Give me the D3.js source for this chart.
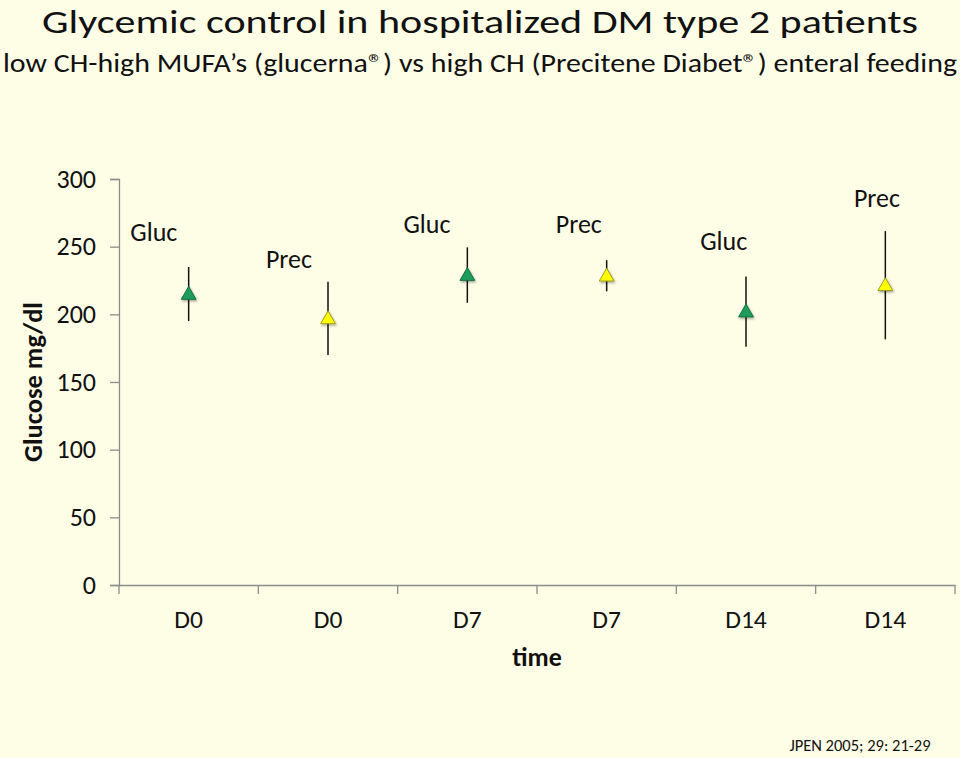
<!DOCTYPE html>
<html><head><meta charset="utf-8">
<script src="https://cdn.jsdelivr.net/npm/d3@7"></script>
<style>
html,body{margin:0;padding:0;background:#FEFEE6;}
svg{display:block;font-family:Carlito,Calibri,Lato,sans-serif;}
</style></head>
<body><svg id="chart" width="960" height="758"></svg>
<script>
const categories = ["D0","D0","D7","D7","D14","D14"];
const groups = ["Gluc","Prec","Gluc","Prec","Gluc","Prec"];
const means = [215,197,229,228.5,202,221.5];
const errors = [20,27,20.5,11.5,26,40];
const labelValues = [261,241,267,267,254,286];
const labelShift = [-0.25,-0.28,-0.29,-0.2,-0.16,-0.06];
const yTicks = [0,50,100,150,200,250,300];
const colors = {Gluc:{fill:"#1E9E5A",stroke:"#147040"},Prec:{fill:"#FFFF00",stroke:"#9E9A20"}};

const svg = d3.select("#chart");
const m = {left:119,right:5,top:179,bottom:173};
const W = 960, H = 758;
const x = d3.scaleBand().domain(d3.range(categories.length)).range([m.left, W-m.right]);
const y = d3.scaleLinear().domain([0,300]).range([H-m.bottom, m.top]);
const FONT = "Carlito,Calibri,Lato,sans-serif";

svg.append("rect").attr("width",W).attr("height",H).attr("fill","#FEFEE6");

// titles
svg.append("text").attr("x",480).attr("y",33).attr("text-anchor","middle")
  .attr("font-size",33).attr("fill","#111")
  .attr("textLength",876).attr("lengthAdjust","spacingAndGlyphs")
  .text("Glycemic control in hospitalized DM type 2 patients");
svg.append("text").attr("x",480).attr("y",72).attr("text-anchor","middle")
  .attr("font-size",26).attr("fill","#111")
  .attr("textLength",954).attr("lengthAdjust","spacingAndGlyphs")
  .text("low CH-high MUFA\u2019s (glucerna\u00AE) vs high CH (Precitene Diabet\u00AE) enteral feeding");

// y axis
const yAxis = svg.append("g").attr("transform",`translate(${m.left},0)`)
  .call(d3.axisLeft(y).tickValues(yTicks).tickSize(9).tickPadding(14));
yAxis.select(".domain").attr("stroke","#8C8C8C").attr("stroke-width",1.3);
yAxis.selectAll(".tick line").attr("stroke","#8C8C8C").attr("stroke-width",1.3);
yAxis.selectAll(".tick text").attr("font-size",26).attr("fill","#111").attr("font-family",FONT);

// x axis
const xAxis = svg.append("g").attr("transform",`translate(0,${y(0)})`)
  .call(d3.axisBottom(x).tickSize(0).tickPadding(25).tickFormat(i=>categories[i]));
xAxis.select(".domain").attr("stroke","#8C8C8C").attr("stroke-width",1.3);
xAxis.selectAll(".tick text").attr("font-size",25.5).attr("fill","#111").attr("font-family",FONT);
// boundary ticks
const bounds = d3.range(categories.length+1).map(i => i<categories.length ? x(i) : x(i-1)+x.bandwidth());
svg.append("g").selectAll("line").data(bounds).join("line")
  .attr("x1",d=>d).attr("x2",d=>d).attr("y1",y(0)).attr("y2",y(0)+9)
  .attr("stroke","#8C8C8C").attr("stroke-width",1.3);

// axis titles
svg.append("text").attr("transform",`translate(42,${(y(0)+y(300))/2+0}) rotate(-90)`)
  .attr("text-anchor","middle").attr("font-size",26.5).attr("font-weight","bold").attr("fill","#111")
  .text("Glucose  mg/dl");
svg.append("text").attr("x",(m.left+W-m.right)/2).attr("y",666).attr("text-anchor","middle")
  .attr("font-size",26).attr("font-weight","bold").attr("fill","#111").text("time");

// error bars
const cx = i => x(i)+x.bandwidth()/2;
svg.append("g").selectAll("line").data(means).join("line")
  .attr("x1",(d,i)=>cx(i)).attr("x2",(d,i)=>cx(i))
  .attr("y1",(d,i)=>y(d+errors[i])).attr("y2",(d,i)=>y(d-errors[i]))
  .attr("stroke","#111").attr("stroke-width",1.5);

// shadow filter
const defs = svg.append("defs");
const f = defs.append("filter").attr("id","sh").attr("x","-50%").attr("y","-50%").attr("width","200%").attr("height","200%");
f.append("feDropShadow").attr("dx",1).attr("dy",1.5).attr("stdDeviation",1.2).attr("flood-color","#000").attr("flood-opacity",0.35);

// markers
const tri = d3.symbol().type(d3.symbolTriangle).size(95);
svg.append("g").selectAll("path").data(means).join("path")
  .attr("d",tri).attr("transform",(d,i)=>`translate(${cx(i)},${y(d)+1})`)
  .attr("fill",(d,i)=>colors[groups[i]].fill).attr("stroke",(d,i)=>colors[groups[i]].stroke)
  .attr("stroke-width",1).attr("filter","url(#sh)");

// data labels
svg.append("g").selectAll("text").data(labelValues).join("text")
  .attr("x",(d,i)=>cx(i)+labelShift[i]*x.bandwidth()).attr("y",d=>y(d))
  .attr("dy","0.35em").attr("text-anchor","middle").attr("font-size",26).attr("fill","#111")
  .text((d,i)=>groups[i]);

// source
svg.append("text").attr("x",860).attr("y",751).attr("text-anchor","middle")
  .attr("font-size",16.5).attr("fill","#111").text("JPEN 2005; 29: 21-29");
</script></body></html>
